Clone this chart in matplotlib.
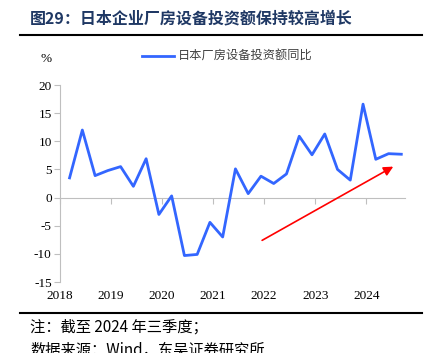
import matplotlib
matplotlib.use("Agg")
import matplotlib.pyplot as plt

plt.rcParams['font.family'] = ['Liberation Serif', 'Noto Sans CJK SC']
plt.rcParams['axes.unicode_minus'] = False

# quarterly YoY growth of Japanese plant & equipment investment, 2018Q1 - 2024Q3
quarters = [(y, q) for y in range(2018, 2025) for q in range(1, 5)][:27]
growth = [3.5, 12.0, 3.9, 4.8, 5.5, 2.0, 6.9,
          -3.0, 0.3, -10.3, -10.1, -4.4, -7.0, 5.1,
          0.7, 3.8, 2.5, 4.2, 10.9, 7.6, 11.3,
          5.0, 3.1, 16.6, 6.8, 7.8, 7.7]
years = [2018, 2019, 2020, 2021, 2022, 2023, 2024]
yticks = [-15, -10, -5, 0, 5, 10, 15, 20]
# trend arrow (start, end) in data coordinates
arrow_start = (2021.96, -7.6)
arrow_end = (2024.53, 5.5)

xs = [y + (q - 0.25) / 4 for y, q in quarters]

fig = plt.figure(figsize=(4.37, 3.53), dpi=100)
ax = fig.add_axes([0.1373, 0.2011, 0.7895, 0.5581])

ax.plot(xs, growth, color='#3366ff', lw=2.0, label='日本厂房设备投资额同比')
ax.annotate('', xy=arrow_end, xytext=arrow_start,
            arrowprops=dict(arrowstyle='-|>', color='#ff0000', lw=1.2,
                            mutation_scale=14, shrinkA=0, shrinkB=0))

ax.set_xlim(2018, 2024.76)
ax.set_ylim(-15, 20)
ax.set_yticks(yticks)
ax.set_yticklabels([str(v) for v in yticks])
ax.set_xticks(years)
ax.set_xticklabels([str(y) for y in years])

for s in ['top', 'right', 'bottom']:
    ax.spines[s].set_visible(False)
ax.spines['left'].set_color('#bfbfbf')
ax.tick_params(axis='y', direction='out', length=4, color='#bfbfbf',
               labelsize=9.5, pad=2)
ax.tick_params(axis='x', length=0, labelsize=9.5, pad=6)

# zero line with year ticks
sec = ax.secondary_xaxis(15 / 35)
sec.set_xticks(years)
sec.set_xticklabels([])
sec.spines['bottom'].set_color('#bfbfbf')
sec.tick_params(axis='x', direction='out', length=4, color='#bfbfbf')

ax.text(-0.04, 1.13, '%', transform=ax.transAxes, fontsize=9.5, ha='center',
        va='center')

leg = ax.legend(loc='center', bbox_to_anchor=(0.485, 1.145), frameon=False,
                handlelength=2.6, handletextpad=0.3,
                prop={'family': ['Noto Sans CJK SC'], 'size': 8.8})
for t in leg.get_texts():
    t.set_color('#404040')

fig.text(0.069, 0.948, '图29：日本企业厂房设备投资额保持较高增长', fontsize=11.5,
         fontweight='bold', color='#1f3864', va='center',
         family=['Noto Sans CJK SC'])
fig.add_artist(plt.Line2D([0.046, 0.966], [0.900, 0.900], color='black', lw=1.5,
                          transform=fig.transFigure))
fig.add_artist(plt.Line2D([0.046, 0.966], [0.113, 0.113], color='black', lw=1.5,
                          transform=fig.transFigure))
fig.text(0.069, 0.073, '注：截至 2024 年三季度；', fontsize=11, va='center',
         family=['Noto Sans CJK SC'])
fig.text(0.069, 0.008, '数据来源：Wind，东吴证券研究所', fontsize=11, va='center',
         family=['Noto Sans CJK SC'])

fig.savefig('out.png', dpi=100)
